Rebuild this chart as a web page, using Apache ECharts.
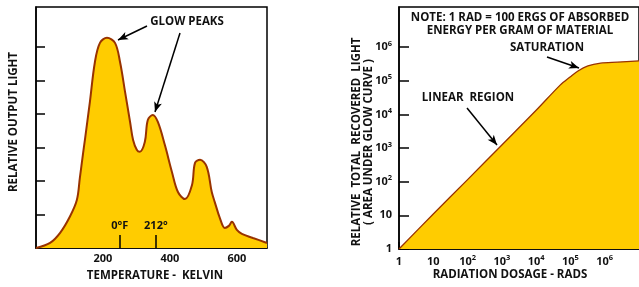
<!DOCTYPE html>
<html>
<head>
<meta charset="utf-8">
<script src="https://cdn.jsdelivr.net/npm/echarts@6/dist/echarts.min.js"></script>
<style>
  html, body { margin: 0; padding: 0; background: #fff; }
  #main { width: 639px; height: 287px; }
</style>
</head>
<body>
<div id="main"></div>
<script>
// glow curve (left)
const tempK = [0, 42, 72, 101, 122, 131, 140, 146, 161, 176, 191, 212, 236, 251, 266, 281, 290, 301, 310, 325, 334, 349, 364, 385, 406, 424, 445, 466, 475, 490, 510, 525, 534, 549, 564, 576, 585, 600, 615, 648, 690]
const outputLight = [0, 0.15, 0.45, 0.93, 1.43, 2.09, 2.78, 3.22, 4.36, 5.55, 6.12, 6.27, 6.12, 5.55, 4.66, 3.76, 3.22, 2.93, 2.87, 3.16, 3.82, 3.97, 3.76, 3.07, 2.27, 1.67, 1.46, 1.88, 2.54, 2.63, 2.42, 1.67, 1.37, 0.90, 0.60, 0.66, 0.78, 0.54, 0.42, 0.30, 0.15]
const tempTicks = [100, 200, 300, 400, 500, 600]
const tempLabels = [200, 400, 600]
const markTemps = [250, 358]
const markNames = ['0°F', '212°']
const lightTicks = [1, 2, 3, 4, 5, 6]

// dose response (right)
const doseRads = [1, 10, 100, 1000, 10000, 50100, 97700, 166000, 324000, 759000, 2340000, 10000000]
const recoveredLight = [1, 11, 115, 1230, 13200, 74100, 128800, 195000, 275000, 331000, 355000, 389000]
const decades = [1, 10, 100, 1000, 10000, 100000, 1000000]

const FONT = 'Open Sans'
const INK = '#111'
const FILL = '#ffcc00'
const CURVE = '#993300'
const txt = {fontFamily: FONT, fontWeight: 'bold', color: INK, fontSize: 11}
const black = {color: '#000', width: 1.5}

function powLabel (v) {
  let e = Math.round(Math.log10(v))
  if (e === 0) return '{b|1}'
  if (e === 1) return '{b|10}'
  return '{b|10}{s|' + e + '}'
}
const richSup = {
  b: {fontFamily: FONT, fontWeight: 'bold', color: INK, fontSize: 11, lineHeight: 15},
  s: {fontFamily: FONT, fontWeight: 'bold', color: INK, fontSize: 7.5, verticalAlign: 'top', lineHeight: 8}
}

function label (text, x, y, extra) {
  return {
    type: 'text', x: x, y: y,
    style: Object.assign({text: text, align: 'center', verticalAlign: 'middle', fill: INK,
      font: 'bold 11.5px "Open Sans"'}, extra || {})
  }
}

// tall reference ticks (0°F, 212°F) drawn as short mark lines from the axis
const refTicks = markTemps.map((t, i) => [
  {coord: [t, 0], symbol: 'none'},
  {coord: [t, 0.39], symbol: 'none',
    label: Object.assign({show: true, position: 'end', distance: 4, formatter: markNames[i]}, txt)}
])

let chart = echarts.init(document.getElementById('main'))
chart.setOption({
  animation: false,
  grid: [
    {left: 36, top: 7, width: 231, height: 241, show: true, borderColor: '#000', borderWidth: 1.5},
    {left: 399, top: 7, width: 243, height: 242, show: true, borderColor: '#000', borderWidth: 1.5}
  ],
  xAxis: [
    {gridIndex: 0, type: 'value', min: 0, max: 690,
      axisLine: {lineStyle: black},
      axisTick: {inside: true, length: 7, customValues: tempTicks, lineStyle: black},
      axisLabel: Object.assign({customValues: tempLabels, margin: 5}, txt),
      splitLine: {show: false}},
    {gridIndex: 1, type: 'log', min: 1, max: 10000000,
      axisLine: {lineStyle: black},
      axisTick: {inside: true, length: 7, customValues: decades, lineStyle: black},
      axisLabel: {customValues: decades, margin: 5, formatter: powLabel, rich: richSup},
      splitLine: {show: false}}
  ],
  yAxis: [
    {gridIndex: 0, type: 'value', min: 0, max: 7.19,
      axisLine: {lineStyle: black},
      axisTick: {inside: true, length: 9, customValues: lightTicks, lineStyle: black},
      axisLabel: {show: false},
      splitLine: {show: false}},
    {gridIndex: 1, type: 'log', min: 1, max: Math.pow(10, 7.19),
      axisLine: {lineStyle: black},
      axisTick: {inside: true, length: 10, customValues: decades, lineStyle: black},
      axisLabel: {customValues: decades, margin: 7, formatter: powLabel, rich: richSup},
      splitLine: {show: false}}
  ],
  series: [
    {type: 'line', xAxisIndex: 0, yAxisIndex: 0, showSymbol: false, smooth: 0.35,
      data: tempK.map((t, i) => [t, outputLight[i]]),
      lineStyle: {color: CURVE, width: 2},
      areaStyle: {color: FILL, opacity: 1},
      markLine: {silent: true, symbol: ['none', 'arrow'], symbolSize: [6, 10],
        label: {show: false}, lineStyle: {color: '#000', width: 1.5, type: 'solid'},
        data: [[{x: 147, y: 26}, {x: 118, y: 40}], [{x: 180, y: 33}, {x: 155, y: 112}]].concat(refTicks)}},
    {type: 'line', xAxisIndex: 1, yAxisIndex: 1, showSymbol: false, smooth: 0.3,
      data: doseRads.map((d, i) => [d, recoveredLight[i]]),
      lineStyle: {color: CURVE, width: 1.3},
      areaStyle: {color: FILL, opacity: 1, origin: 'start'},
      markLine: {silent: true, symbol: ['none', 'arrow'], symbolSize: [6, 10],
        label: {show: false}, lineStyle: {color: '#000', width: 1.5, type: 'solid'},
        data: [[{x: 547, y: 57}, {x: 579, y: 68}], [{x: 467, y: 108}, {x: 497, y: 145}]]}}
  ],
  graphic: [
    label('GLOW PEAKS', 187, 22),
    label('TEMPERATURE -  KELVIN', 155, 276),
    label('RELATIVE OUTPUT LIGHT', 14, 122),
    label('NOTE: 1 RAD = 100 ERGS OF ABSORBED', 520, 18),
    label('ENERGY PER GRAM OF MATERIAL', 520, 31),
    label('SATURATION', 547, 48),
    label('LINEAR  REGION', 468, 98),
    label('RADIATION DOSAGE - RADS', 510, 275),
    label('RELATIVE  TOTAL  RECOVERED  LIGHT\n( AREA UNDER GLOW CURVE )', 363, 142, {lineHeight: 12})
  ].map((g, i) => (i === 2 || i === 8) ? Object.assign(g, {rotation: Math.PI / 2}) : g)
})
</script>
</body>
</html>
